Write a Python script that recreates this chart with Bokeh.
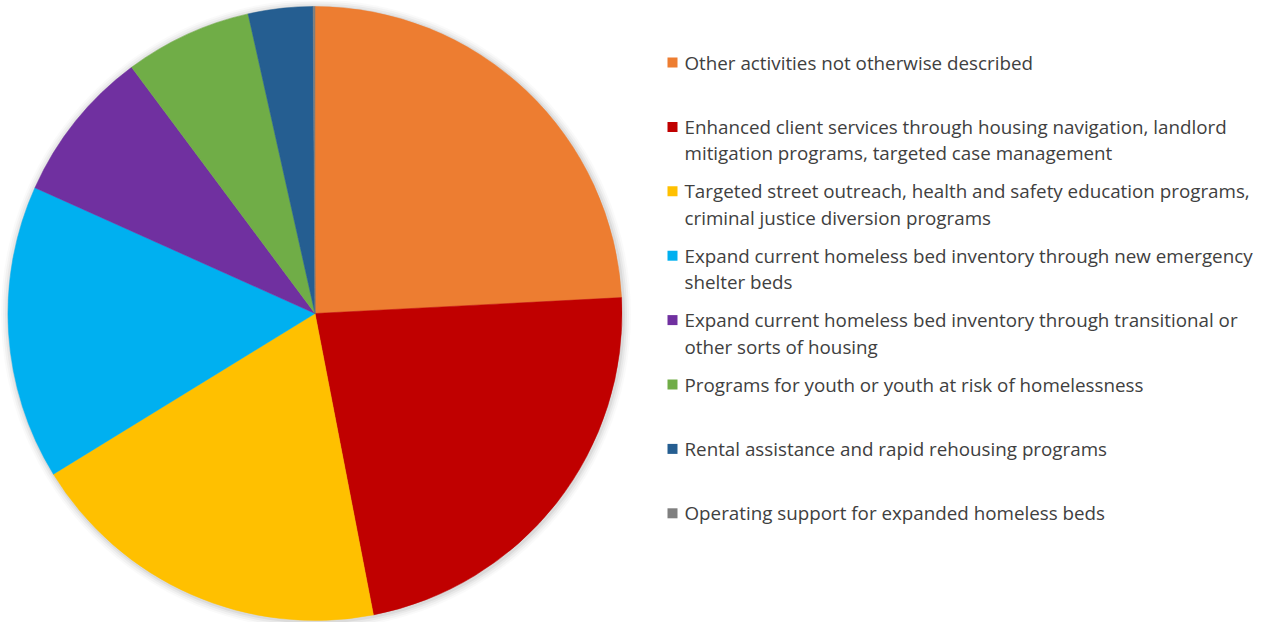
import math
from bokeh.plotting import figure
from bokeh.models import Range1d, ColumnDataSource
from bokeh.core.properties import value
from bokeh.embed import file_html
from bokeh.resources import INLINE

categories = [
    "Other activities not otherwise described",
    "Enhanced client services through housing navigation, landlord\nmitigation programs, targeted case management",
    "Targeted street outreach, health and safety education programs,\ncriminal justice diversion programs",
    "Expand current homeless bed inventory through new emergency\nshelter beds",
    "Expand current homeless bed inventory through transitional or\nother sorts of housing",
    "Programs for youth or youth at risk of homelessness",
    "Rental assistance and rapid rehousing programs",
    "Operating support for expanded homeless beds",
]
shares = [24.2, 22.8, 19.3, 15.5, 8.1, 6.7, 3.4, 0.1]
colors = ["#ED7D31", "#C00000", "#FFC000", "#00B0F0", "#7030A0", "#70AD47", "#255E91", "#7F7F7F"]

W, H = 1268, 622
cx, cy, r = 314.5, H - 313, 307

total = sum(shares)
starts, ends = [], []
acc = 0.0
for s in shares:
    starts.append(math.pi / 2 - 2 * math.pi * acc / total)
    acc += s
    ends.append(math.pi / 2 - 2 * math.pi * acc / total)

p = figure(width=W, height=H, x_range=Range1d(0, W), y_range=Range1d(0, H),
           output_backend="svg", toolbar_location=None, min_border=0)
p.axis.visible = False
p.grid.visible = False
p.outline_line_color = None
p.background_fill_color = "white"

# soft shadow
for i, a in enumerate([0.05, 0.04, 0.03, 0.02]):
    p.circle(x=[cx + 1], y=[cy - 1], radius=r + 2 + 2 * i, fill_color="black",
             fill_alpha=a, line_color=None)

src = ColumnDataSource(dict(start=starts, end=ends, color=colors))
p.wedge(x=cx, y=cy, radius=r, start_angle="start", end_angle="end",
        direction="clock", fill_color="color", line_color="color", line_width=0.5,
        source=src)

# legend
ly0 = 62
step = 64.4
line_gap = 26.5
lx_sq = 672
lx_txt = 684
ys = [H - (ly0 + i * step) for i in range(len(categories))]
p.rect(x=[lx_sq] * len(categories), y=ys, width=10, height=10,
       fill_color=colors, line_color=None)
tx, ty, tt = [], [], []
for y0, lab in zip(ys, categories):
    for j, line in enumerate(lab.split("\n")):
        tx.append(lx_txt)
        ty.append(y0 - j * line_gap)
        tt.append(line)
p.text(x=tx, y=ty, text=tt,
       text_font=value("Open Sans"), text_font_size="18.8px", text_color="#404040",
       text_baseline="middle", text_align="left")

open("out.html", "w").write(file_html(p, INLINE))
